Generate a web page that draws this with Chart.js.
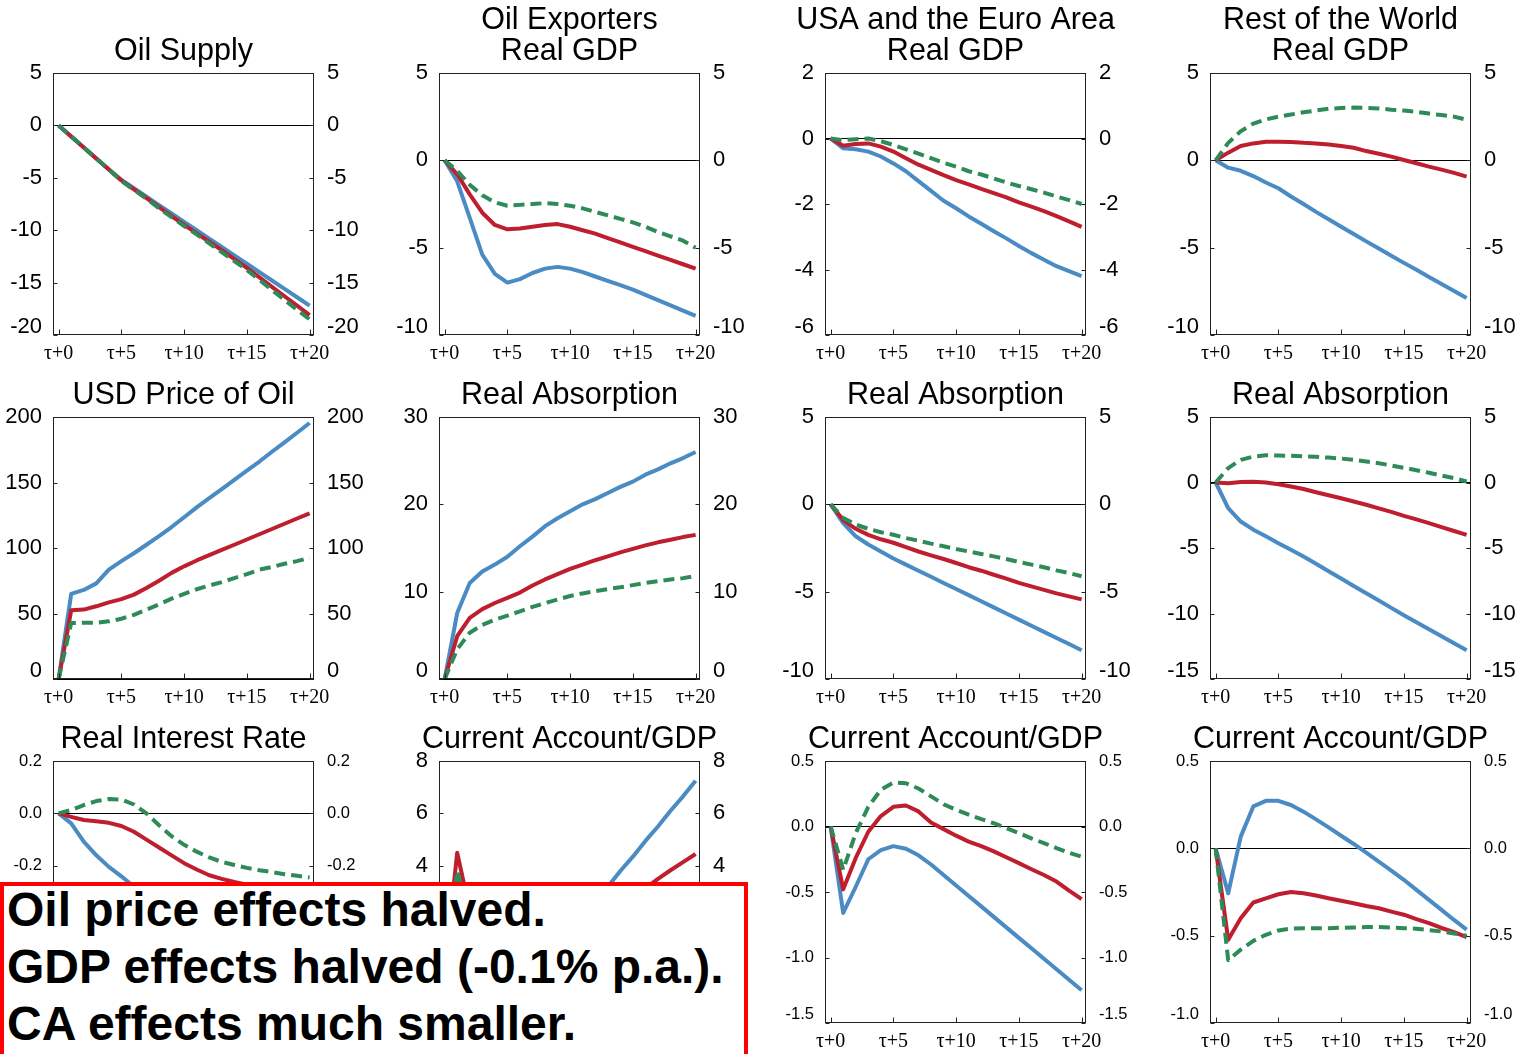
<!DOCTYPE html>
<html>
<head>
<meta charset="utf-8">
<script src="https://cdn.jsdelivr.net/npm/chart.js@4.4.1/dist/chart.umd.min.js"></script>
<style>
  html, body { margin: 0; padding: 0; background: #ffffff; }
  body { position: relative; width: 1515px; height: 1054px; overflow: hidden; }
  canvas.panel { position: absolute; }
  #note {
    position: absolute; left: 0; top: 882px; width: 740px; height: 200px;
    border: 4px solid #ff0000; background: #ffffff; z-index: 10;
  }
  #noteText {
    position: absolute; left: 3px; top: -5px; white-space: nowrap;
    font: bold 48px 'Liberation Sans', Arial, sans-serif; line-height: 57px; color: #000;
  }
</style>
</head>
<body>
<div id="note"><div id="noteText">Oil price effects halved.<br>GDP effects halved (-0.1% p.a.).<br>CA effects much smaller.</div></div>
<script>
// Horizon: quarters after the shock
const periods = [0,1,2,3,4,5,6,7,8,9,10,11,12,13,14,15,16,17,18,19,20];
const xTickLabels = ['τ+0', 'τ+5', 'τ+10', 'τ+15', 'τ+20'];

// Oil supply
const supplyBlue  = [0,-1.05,-2.1,-3.15,-4.2,-5.2,-6.0,-6.8,-7.6,-8.4,-9.2,-10.0,-10.8,-11.6,-12.4,-13.2,-14.0,-14.8,-15.6,-16.4,-17.2];
const supplyRed   = [0,-1.05,-2.1,-3.15,-4.2,-5.25,-6.1,-6.95,-7.8,-8.65,-9.5,-10.3,-11.1,-11.9,-12.75,-13.6,-14.5,-15.4,-16.3,-17.2,-18.1];
const supplyGreen = [0,-1.05,-2.1,-3.15,-4.2,-5.3,-6.15,-7.0,-7.9,-8.75,-9.6,-10.4,-11.25,-12.1,-12.95,-13.8,-14.75,-15.7,-16.65,-17.6,-18.5];

// Oil exporters real GDP
const exportersGdpBlue  = [0,-1.2,-3.3,-5.4,-6.5,-7.0,-6.8,-6.45,-6.2,-6.1,-6.2,-6.4,-6.65,-6.9,-7.15,-7.4,-7.7,-8.0,-8.3,-8.6,-8.9];
const exportersGdpRed   = [0,-0.8,-1.95,-3.0,-3.7,-3.95,-3.9,-3.8,-3.7,-3.65,-3.8,-4.0,-4.2,-4.45,-4.7,-4.95,-5.2,-5.45,-5.7,-5.95,-6.2];
const exportersGdpGreen = [0,-0.6,-1.4,-2.0,-2.4,-2.6,-2.55,-2.5,-2.45,-2.5,-2.6,-2.75,-2.95,-3.15,-3.35,-3.55,-3.8,-4.1,-4.35,-4.6,-5.0];

// USA and the euro area real GDP
const usaEaGdpBlue  = [0,-0.3,-0.33,-0.4,-0.55,-0.76,-1.0,-1.3,-1.6,-1.9,-2.13,-2.38,-2.6,-2.83,-3.05,-3.28,-3.5,-3.7,-3.9,-4.05,-4.2];
const usaEaGdpRed   = [0,-0.22,-0.17,-0.15,-0.25,-0.4,-0.6,-0.8,-0.96,-1.12,-1.27,-1.4,-1.54,-1.67,-1.8,-1.95,-2.08,-2.22,-2.37,-2.53,-2.7];
const usaEaGdpGreen = [0,-0.05,-0.02,0.0,-0.08,-0.2,-0.33,-0.46,-0.6,-0.74,-0.86,-1.0,-1.1,-1.22,-1.34,-1.45,-1.55,-1.65,-1.77,-1.88,-2.0];

// Rest of the world real GDP
const rowGdpBlue  = [0,-0.42,-0.6,-0.9,-1.27,-1.6,-2.07,-2.5,-2.95,-3.37,-3.8,-4.22,-4.64,-5.05,-5.46,-5.87,-6.27,-6.68,-7.08,-7.48,-7.88];
const rowGdpRed   = [0,0.44,0.82,0.97,1.06,1.06,1.05,1.0,0.97,0.91,0.82,0.72,0.53,0.38,0.21,0.02,-0.17,-0.36,-0.53,-0.72,-0.93];
const rowGdpGreen = [0,1.0,1.67,2.1,2.34,2.5,2.62,2.75,2.85,2.95,3.0,3.02,3.0,2.97,2.9,2.85,2.78,2.68,2.59,2.5,2.32];

// USD price of oil
const oilPriceBlue  = [0,65,68,73,83.5,90,96,102.5,109,116,123.5,131,138,145,152,159,166,173.5,180.7,188,195.4];
const oilPriceRed   = [0,52.4,53,55.5,58.5,61,64.4,69.5,75,81,86,90.5,94.5,98.5,102.5,106.5,110.5,114.5,118.5,122.5,126.5];
const oilPriceGreen = [0,42.7,43,43,44,46,49,53,57,61.3,65,68.5,71.3,74,77,80,83.5,85.5,88,90,92.5];

// Oil exporters real absorption
const exportersAbsBlue  = [0,7.55,11.0,12.3,13.1,14.0,15.2,16.3,17.5,18.4,19.2,20.0,20.6,21.3,22.0,22.6,23.4,24.0,24.7,25.3,26.0];
const exportersAbsRed   = [0,4.9,7.0,8.0,8.7,9.3,9.9,10.7,11.4,12.0,12.6,13.1,13.6,14.05,14.5,14.9,15.3,15.65,15.95,16.25,16.5];
const exportersAbsGreen = [0,3.4,5.3,6.2,6.8,7.25,7.75,8.25,8.7,9.1,9.5,9.8,10.05,10.3,10.5,10.75,11.0,11.2,11.4,11.55,11.8];

// USA and the euro area real absorption
const usaEaAbsBlue  = [0,-1.07,-1.83,-2.3,-2.7,-3.1,-3.45,-3.8,-4.15,-4.5,-4.85,-5.2,-5.55,-5.9,-6.25,-6.6,-6.95,-7.3,-7.65,-8.0,-8.35];
const usaEaAbsRed   = [0,-0.9,-1.4,-1.75,-2.0,-2.2,-2.45,-2.7,-2.92,-3.13,-3.36,-3.6,-3.8,-4.03,-4.25,-4.5,-4.7,-4.9,-5.1,-5.27,-5.44];
const usaEaAbsGreen = [0,-0.78,-1.16,-1.4,-1.6,-1.74,-1.93,-2.08,-2.25,-2.4,-2.56,-2.7,-2.84,-2.98,-3.13,-3.3,-3.45,-3.6,-3.78,-3.93,-4.12];

// Rest of the world real absorption
const rowAbsBlue  = [0,-1.96,-2.98,-3.6,-4.1,-4.63,-5.14,-5.65,-6.2,-6.77,-7.33,-7.9,-8.45,-9.0,-9.57,-10.13,-10.66,-11.2,-11.73,-12.27,-12.8];
const rowAbsRed   = [0,-0.05,0.03,0.05,0.0,-0.13,-0.3,-0.5,-0.74,-0.97,-1.2,-1.45,-1.7,-1.98,-2.24,-2.55,-2.82,-3.1,-3.4,-3.7,-4.0];
const rowAbsGreen = [0,1.1,1.73,1.98,2.08,2.06,2.04,2.0,1.96,1.9,1.83,1.73,1.6,1.47,1.3,1.12,0.94,0.74,0.53,0.33,0.08];

// Real interest rate
const rateBlue  = [0,-0.038,-0.108,-0.16,-0.204,-0.24,-0.28,-0.32,-0.36,-0.39,-0.42,-0.45,-0.47,-0.49,-0.51,-0.53,-0.55,-0.56,-0.57,-0.58,-0.59];
const rateRed   = [0,-0.013,-0.025,-0.03,-0.036,-0.048,-0.07,-0.1,-0.13,-0.16,-0.19,-0.214,-0.236,-0.25,-0.262,-0.272,-0.28,-0.288,-0.295,-0.3,-0.305];
const rateGreen = [0,0.013,0.032,0.047,0.055,0.053,0.034,0.0,-0.045,-0.087,-0.12,-0.146,-0.168,-0.185,-0.197,-0.208,-0.217,-0.224,-0.232,-0.238,-0.245];

// Oil exporters current account / GDP
const exportersCaBlue  = [0,3.0,2.0,1.5,1.2,1.0,0.9,0.9,1.0,1.2,1.5,1.9,2.5,3.2,3.8,4.35,4.95,5.5,6.1,6.65,7.25];
const exportersCaRed   = [0,4.5,2.3,1.8,1.6,1.5,1.5,1.55,1.65,1.75,1.9,2.05,2.2,2.4,2.6,2.85,3.15,3.5,3.83,4.14,4.45];
const exportersCaGreen = [0,3.8,2.0,1.6,1.4,1.3,1.3,1.35,1.4,1.5,1.6,1.7,1.8,1.9,2.0,2.1,2.2,2.3,2.4,2.5,2.6];

// USA and the euro area current account / GDP
const usaEaCaBlue  = [0,-0.66,-0.46,-0.25,-0.18,-0.15,-0.17,-0.22,-0.29,-0.37,-0.45,-0.53,-0.61,-0.69,-0.77,-0.85,-0.93,-1.01,-1.09,-1.17,-1.25];
const usaEaCaRed   = [0,-0.48,-0.24,-0.04,0.08,0.15,0.16,0.115,0.03,-0.02,-0.07,-0.115,-0.15,-0.19,-0.235,-0.28,-0.326,-0.37,-0.42,-0.49,-0.555];
const usaEaCaGreen = [0,-0.33,-0.05,0.15,0.28,0.335,0.33,0.29,0.23,0.17,0.127,0.09,0.056,0.025,-0.013,-0.05,-0.09,-0.127,-0.165,-0.2,-0.23];

// Rest of the world current account / GDP
const rowCaBlue  = [0,-0.257,0.067,0.24,0.272,0.272,0.248,0.21,0.166,0.12,0.072,0.025,-0.025,-0.076,-0.128,-0.18,-0.238,-0.295,-0.352,-0.41,-0.465];
const rowCaRed   = [0,-0.524,-0.4,-0.31,-0.286,-0.263,-0.25,-0.257,-0.27,-0.286,-0.3,-0.314,-0.33,-0.343,-0.362,-0.38,-0.405,-0.428,-0.456,-0.48,-0.508];
const rowCaGreen = [0,-0.64,-0.58,-0.53,-0.495,-0.47,-0.46,-0.457,-0.457,-0.457,-0.455,-0.453,-0.451,-0.451,-0.453,-0.457,-0.46,-0.468,-0.476,-0.488,-0.5];

// Panel titles
const titleSupply       = ['Oil Supply'];
const titleExportersGdp = ['Oil Exporters', 'Real GDP'];
const titleUsaEaGdp     = ['USA and the Euro Area', 'Real GDP'];
const titleRowGdp       = ['Rest of the World', 'Real GDP'];
const titleOilPrice     = ['USD Price of Oil'];
const titleAbsorption   = ['Real Absorption'];
const titleRate         = ['Real Interest Rate'];
const titleCa           = ['Current Account/GDP'];

// ---- layout and styling ----
const SANS = "'Liberation Sans', Arial, Helvetica, sans-serif";
const SERIF = "'Liberation Serif', 'Times New Roman', serif";
const BLUE = '#4a8bc4', RED = '#be1e2d', GREEN = '#2e8b57';
const COL_LEFT = [53, 439, 825, 1210];
const ROW_TOP = [73, 417, 761];
const PLOT_W = 261, PLOT_H = 262, SIDE = 50, HEAD = 73, FOOT = 30;

const panels = [
  { row: 0, col: 0, title: titleSupply,       min: -20,  max: 5,   step: 5,   dec: 0, lines: [supplyBlue, supplyRed, supplyGreen] },
  { row: 0, col: 1, title: titleExportersGdp, min: -10,  max: 5,   step: 5,   dec: 0, lines: [exportersGdpBlue, exportersGdpRed, exportersGdpGreen] },
  { row: 0, col: 2, title: titleUsaEaGdp,     min: -6,   max: 2,   step: 2,   dec: 0, lines: [usaEaGdpBlue, usaEaGdpRed, usaEaGdpGreen] },
  { row: 0, col: 3, title: titleRowGdp,       min: -10,  max: 5,   step: 5,   dec: 0, lines: [rowGdpBlue, rowGdpRed, rowGdpGreen] },
  { row: 1, col: 0, title: titleOilPrice,     min: 0,    max: 200, step: 50,  dec: 0, lines: [oilPriceBlue, oilPriceRed, oilPriceGreen] },
  { row: 1, col: 1, title: titleAbsorption,   min: 0,    max: 30,  step: 10,  dec: 0, lines: [exportersAbsBlue, exportersAbsRed, exportersAbsGreen] },
  { row: 1, col: 2, title: titleAbsorption,   min: -10,  max: 5,   step: 5,   dec: 0, lines: [usaEaAbsBlue, usaEaAbsRed, usaEaAbsGreen] },
  { row: 1, col: 3, title: titleAbsorption,   min: -15,  max: 5,   step: 5,   dec: 0, lines: [rowAbsBlue, rowAbsRed, rowAbsGreen] },
  { row: 2, col: 0, title: titleRate,         min: -0.8, max: 0.2, step: 0.2, dec: 1, lines: [rateBlue, rateRed, rateGreen] },
  { row: 2, col: 1, title: titleCa,           min: -2,   max: 8,   step: 2,   dec: 0, lines: [exportersCaBlue, exportersCaRed, exportersCaGreen] },
  { row: 2, col: 2, title: titleCa,           min: -1.5, max: 0.5, step: 0.5, dec: 1, lines: [usaEaCaBlue, usaEaCaRed, usaEaCaGreen] },
  { row: 2, col: 3, title: titleCa,           min: -1.0, max: 0.5, step: 0.5, dec: 1, lines: [rowCaBlue, rowCaRed, rowCaGreen] }
];

// Box around the plot area with short inward tick marks
const framePlugin = {
  id: 'frame',
  afterDraw(chart) {
    const { ctx, chartArea: a, scales } = chart;
    const L = Math.round(a.left) + 0.5, R = Math.round(a.right) - 0.5;
    const T = Math.round(a.top) + 0.5, B = Math.round(a.bottom) - 0.5;
    ctx.save();
    ctx.strokeStyle = '#222';
    ctx.lineWidth = 1;
    ctx.strokeRect(L, T, R - L, B - T);
    ctx.beginPath();
    scales.x.ticks.forEach(t => {
      const x = Math.round(scales.x.getPixelForValue(t.value)) + 0.5;
      ctx.moveTo(x, B); ctx.lineTo(x, B - 5);
    });
    scales.y.ticks.forEach(t => {
      const y = Math.round(scales.y.getPixelForValue(t.value)) + 0.5;
      ctx.moveTo(L, y); ctx.lineTo(L + 4, y);
      ctx.moveTo(R, y); ctx.lineTo(R - 4, y);
    });
    ctx.stroke();
    ctx.restore();
  }
};

function fmt(v, dec) {
  if (Math.abs(v) < 1e-9) v = 0;
  return dec ? v.toFixed(dec) : String(Math.round(v));
}

function yAxis(p, position) {
  const size = p.dec ? 16.5 : 22;
  return {
    type: 'linear', position, min: p.min, max: p.max,
    afterFit: s => { s.width = SIDE; },
    border: { display: false },
    grid: position === 'left'
      ? { drawTicks: false, lineWidth: 1, color: c => (c.tick && Math.abs(c.tick.value) < 1e-9) ? '#000' : 'rgba(0,0,0,0)' }
      : { display: false, drawTicks: false },
    ticks: {
      stepSize: p.step, autoSkip: false, padding: position === 'left' ? 11 : 13, color: '#000',
      // lowest label sits slightly above its tick
      font: c => ({ family: SANS, size, lineHeight: c.index === 0 ? '17px' : 1.2 }),
      callback: (v, i) => i === 0 ? [fmt(v, p.dec), ''] : fmt(v, p.dec)
    }
  };
}

function makePanel(p) {
  const w = PLOT_W + 2 * SIDE, h = HEAD + PLOT_H + FOOT;
  const canvas = document.createElement('canvas');
  canvas.className = 'panel';
  canvas.width = w; canvas.height = h;
  canvas.style.width = w + 'px'; canvas.style.height = h + 'px';
  canvas.style.left = (COL_LEFT[p.col] - SIDE) + 'px';
  canvas.style.top = (ROW_TOP[p.row] - HEAD) + 'px';
  document.body.appendChild(canvas);

  const n = p.title.length;
  const lineH = 31;
  const padBottom = 6.4;
  const padTop = HEAD - padBottom - n * lineH;
  const colors = [BLUE, RED, GREEN];

  new Chart(canvas, {
    type: 'line',
    data: {
      labels: periods,
      datasets: p.lines.map((d, k) => ({
        data: d,
        borderColor: colors[k],
        borderWidth: 4,
        borderDash: k === 2 ? [11, 6] : [],
        borderCapStyle: 'butt',
        borderJoinStyle: 'round',
        pointRadius: 0,
        fill: false,
        tension: 0,
        order: 2 - k
      }))
    },
    options: {
      responsive: false,
      animation: false,
      devicePixelRatio: 1,
      layout: { padding: 0 },
      plugins: {
        legend: { display: false },
        tooltip: { enabled: false },
        title: {
          display: true, text: p.title, color: '#000',
          font: { family: SANS, size: 30.5, weight: 'normal', lineHeight: lineH / 30.5 },
          padding: { top: padTop, bottom: padBottom }
        }
      },
      scales: {
        x: {
          type: 'linear', position: 'bottom', min: -0.45, max: 20.35,
          afterFit: s => { s.height = FOOT; },
          border: { display: false },
          grid: { display: false, drawTicks: false },
          ticks: {
            stepSize: 5, includeBounds: false, autoSkip: false, maxRotation: 0,
            padding: 7, color: '#000', font: { family: SERIF, size: 20 },
            callback: v => xTickLabels[Math.round(v / 5)]
          }
        },
        y: yAxis(p, 'left'),
        y2: yAxis(p, 'right')
      }
    },
    plugins: [framePlugin]
  });
}

panels.forEach(makePanel);
</script>
</body>
</html>
